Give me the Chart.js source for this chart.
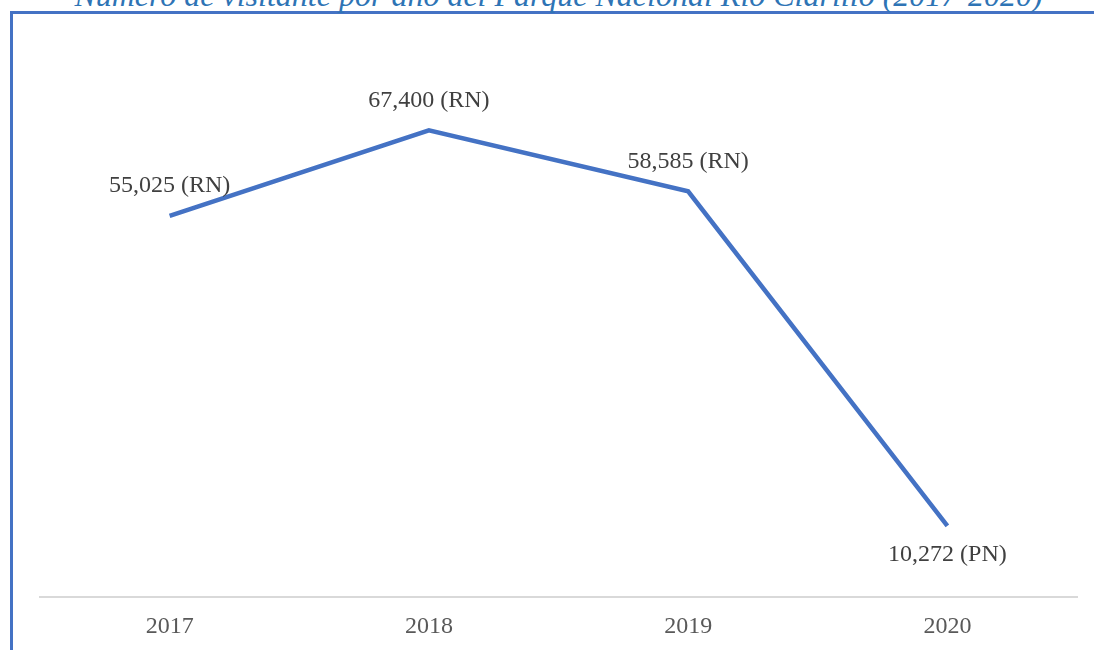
<!DOCTYPE html>
<html>
<head>
<meta charset="utf-8">
<script src="https://cdn.jsdelivr.net/npm/chart.js@4.4.1/dist/chart.umd.min.js"></script>
<style>
  body { margin: 0; background: #fff; overflow: hidden; }
  #frame { position: absolute; left: 10px; top: 11px; width: 1200px; height: 800px;
           border-top: 3px solid #4472C4; border-left: 3px solid #4472C4; }
  #title { position: absolute; left: 0; width: 1117px; top: -21px; text-align: center;
           font: italic 32px "Liberation Serif", serif; line-height: 32px; color: #2E74B5;
           white-space: nowrap; }
  #wrap { position: absolute; left: 0; top: 0; width: 1094px; height: 650px; }
</style>
</head>
<body>
<div id="frame"></div>
<div id="title">Número de visitante por año del Parque Nacional Río Clarillo (2017-2020)</div>
<div id="wrap"><canvas id="visitChart"></canvas></div>
<script>
var years = ["2017", "2018", "2019", "2020"];
var visitors = [55025, 67400, 58585, 10272];
var labelTags = ["(RN)", "(RN)", "(RN)", "(PN)"];
var labelBelow = [false, false, false, true];

// dibuja las etiquetas de datos sobre/bajo cada punto
var pointLabels = {
    id: "pointLabels",
    afterDatasetsDraw: function(chart) {
        var ctx = chart.ctx;
        var meta = chart.getDatasetMeta(0);
        ctx.save();
        ctx.font = "24px 'Liberation Serif', serif";
        ctx.fillStyle = "#404040";
        ctx.textAlign = "center";
        ctx.textBaseline = "middle";
        meta.data.forEach(function(pt, i) {
            var txt = visitors[i].toLocaleString("en-US") + " " + labelTags[i];
            var y = labelBelow[i] ? pt.y + 29 : pt.y - 30;
            ctx.fillText(txt, pt.x, y);
        });
        ctx.restore();
    }
};

new Chart("visitChart", {
    type: "line",
    data: {
        labels: years,
        datasets: [{
            data: visitors,
            borderColor: "#4472C4",
            borderWidth: 4.5,
            pointRadius: 0,
            tension: 0,
            fill: false
        }]
    },
    options: {
        responsive: true,
        maintainAspectRatio: false,
        animation: false,
        layout: { padding: { left: 40, right: 17, top: 43, bottom: 0 } },
        plugins: { legend: { display: false }, tooltip: { enabled: false } },
        scales: {
            x: {
                offset: true,
                grid: { display: false, drawTicks: false },
                border: { display: true, color: "#d9d9d9", width: 2 },
                ticks: { color: "#595959", padding: 15, font: { family: "'Liberation Serif', serif", size: 24 } },
                afterFit: function(scale) { scale.height = 53; }
            },
            y: { display: false, min: 0, max: 80000 }
        }
    },
    plugins: [pointLabels]
});
</script>
</body>
</html>
